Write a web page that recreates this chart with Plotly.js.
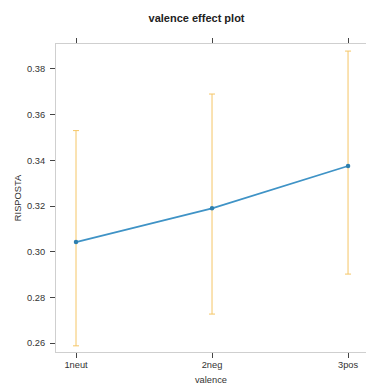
<!DOCTYPE html>
<html>
<head>
<meta charset="utf-8">
<script src="https://cdn.plot.ly/plotly-3.0.1.min.js"></script>
<style>
html,body{margin:0;padding:0;background:#fff;}
#chart{width:366px;height:385px;}
</style>
</head>
<body>
<div id="chart"></div>
<script>
const categories = ["1neut", "2neg", "3pos"];
const fitValues = [0.3042, 0.3190, 0.3375];
const upperValues = [0.3530, 0.3690, 0.3878];
const lowerValues = [0.2588, 0.2727, 0.2902];
const yTickValues = [0.26, 0.28, 0.30, 0.32, 0.34, 0.36, 0.38];

const xPos = categories.map((c, i) => i);

const trace = {
  x: xPos,
  y: fitValues,
  type: "scatter",
  mode: "lines+markers",
  line: {color: "#3f93c6", width: 1.8},
  marker: {color: "#2e7fae", size: 4.5, symbol: "circle"},
  error_y: {
    type: "data",
    symmetric: false,
    array: upperValues.map((u, i) => u - fitValues[i]),
    arrayminus: fitValues.map((f, i) => f - lowerValues[i]),
    color: "#f5c666",
    thickness: 1,
    width: 3
  },
  hoverinfo: "skip"
};

const font = "Liberation Sans, Arial, sans-serif";

const layout = {
  width: 366,
  height: 385,
  margin: {l: 56, r: 0, t: 44, b: 33},
  paper_bgcolor: "#ffffff",
  plot_bgcolor: "#ffffff",
  showlegend: false,
  font: {family: font, size: 9.3, color: "#333333"},
  title: {
    text: "<b>valence effect plot</b>",
    font: {family: font, size: 11, color: "#222222"},
    x: 0.537, xanchor: "center",
    y: 0.953, yanchor: "middle"
  },
  xaxis: {
    range: [-0.147, 2.132],
    tickmode: "array",
    tickvals: xPos,
    ticktext: categories,
    showgrid: false,
    zeroline: false,
    showline: true,
    linecolor: "#cfcfcf",
    linewidth: 1,
    mirror: "ticks",
    ticks: "outside",
    ticklen: 5,
    tickcolor: "#444444",
    tickwidth: 1,
    ticklabelstandoff: -1,
    tickfont: {family: font, size: 9.3, color: "#333333"},
    title: {text: "valence", font: {family: font, size: 9.3, color: "#333333"}, standoff: 9}
  },
  yaxis: {
    range: [0.2561, 0.3909],
    tickmode: "array",
    tickvals: yTickValues,
    ticktext: yTickValues.map(v => v.toFixed(2)),
    showgrid: false,
    zeroline: false,
    showline: true,
    linecolor: "#cfcfcf",
    linewidth: 1,
    mirror: "ticks",
    ticks: "outside",
    ticklen: 5,
    tickcolor: "#444444",
    tickwidth: 1,
    ticklabelstandoff: 3,
    tickfont: {family: font, size: 9.3, color: "#333333"},
    title: {text: "RISPOSTA", font: {family: font, size: 9.3, color: "#333333"}, standoff: 3}
  }
};

Plotly.newPlot("chart", [trace], layout, {displayModeBar: false, staticPlot: true});
</script>
</body>
</html>
